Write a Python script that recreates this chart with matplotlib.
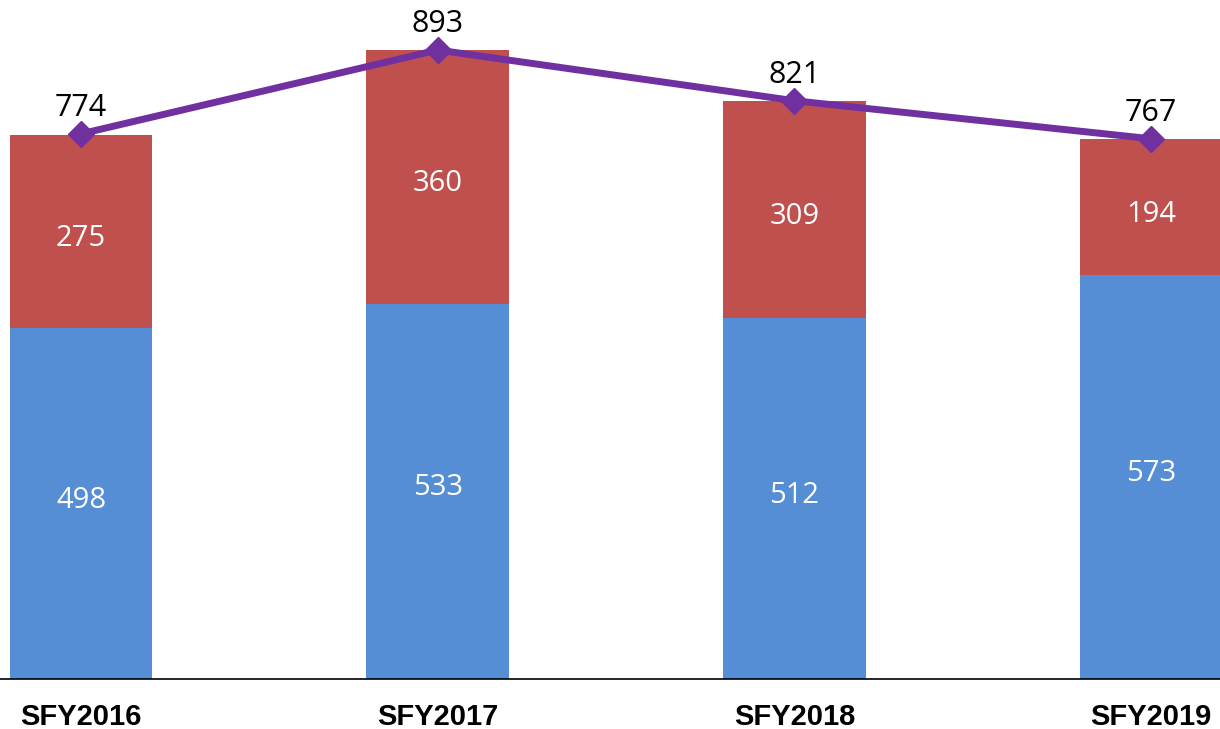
import numpy as np
import matplotlib.pyplot as plt

# fiscal years and counts
years = ["SFY2016", "SFY2017", "SFY2018", "SFY2019"]
lower = [498, 533, 512, 573]
upper = [275, 360, 309, 194]
totals = [774, 893, 821, 767]

blue = "#558ED5"
red = "#C0504D"
purple = "#7030A0"

fig = plt.figure(figsize=(12.2, 7.29), dpi=100)
ax = fig.add_axes([0, 50 / 729, 1, 679 / 729])

x = np.arange(len(years))
w = 0.4
ax.bar(x, lower, width=w, color=blue)
ax.bar(x, upper, width=w, bottom=lower, color=red)

# white labels inside the stacked segments
for xi, lo, up in zip(x, lower, upper):
    ax.text(xi, lo / 2 + 5, str(lo), ha="center", va="center",
            color="white", fontsize=21, family="Open Sans")
    ax.text(xi, lo + up / 2 - 10, str(up), ha="center", va="center",
            color="white", fontsize=21, family="Open Sans")

# total line with diamond markers
ax.plot(x, totals, color=purple, linewidth=5, marker="D", markersize=13,
        zorder=3)
for xi, t in zip(x, totals):
    ax.annotate(str(t), (xi, t), xytext=(0, 8), textcoords="offset points",
                ha="center", va="bottom", fontsize=22, family="Open Sans",
                color="black")

ax.set_xlim(-81 / 356.67, 3 + 69 / 356.67)
ax.set_ylim(0, 964)

ax.set_xticks(x)
ax.set_xticklabels(years, fontsize=21, fontweight="bold",
                   family="Liberation Sans")
ax.tick_params(axis="x", length=0, pad=17)
ax.set_yticks([])
for s in ["top", "left", "right"]:
    ax.spines[s].set_visible(False)
ax.spines["bottom"].set_linewidth(1.2)

fig.savefig("out.png", dpi=100)
